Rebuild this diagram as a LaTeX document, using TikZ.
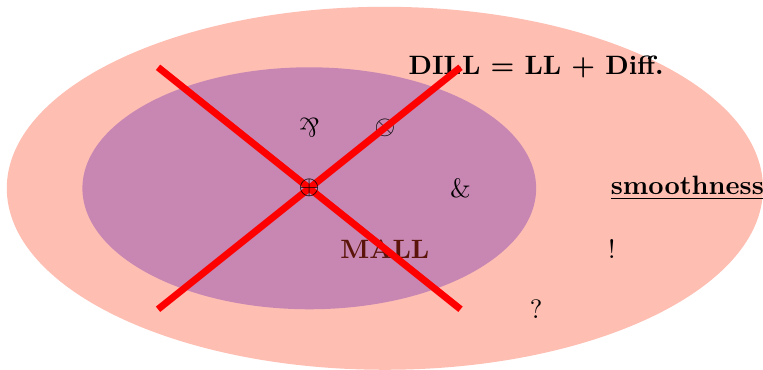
\documentclass[tikz,border=0pt]{standalone}
\usepackage{amsmath,amssymb}
\usepackage{tikz}
\usetikzlibrary{positioning}
\definecolor{dlsalmon}{RGB}{254,190,178}
\definecolor{dlmauve}{RGB}{200,135,178}
\definecolor{dlbrown}{RGB}{90,20,10}
\newcommand{\parrsym}{\rotatebox[origin=c]{180}{\&}}
\begin{document}
\begin{tikzpicture}[every node/.style={align=center},
    zone/.style={fill=#1,draw=none},
    cross/.style={red,line width=2.6pt}]
        \useasboundingbox (-5.09,-2.39) rectangle (5.0,2.49);
        \fill[zone=dlsalmon] (0,0) ellipse (5cm and 2.4cm);
        \fill[zone=dlmauve] (-1,0) ellipse (3cm and 1.6cm);
        \node (dill) at (2,1.6) {\textbf{DILL = LL + Diff.}};
        \node (parr) at (-1,0.8) {$\parrsym$};
        \node (tensor) at (0,0.8) {$\otimes$};
        \node (with) at (1,0) {$\&$};
        \node[text=dlbrown] (mall) at (0,-0.8) {\textbf{MALL}};
        \node (smooth) at (4,0) {\underline{\textbf{smoothness}}};
        \node (bang) at (3,-0.8) {$!$};
        \node (quest) at (2,-1.6) {$?$};
        \coordinate (nw) at (-3,1.6);
        \coordinate (ne) at (1,1.6);
        \coordinate (sw) at (-3,-1.6);
        \coordinate (se) at (1,-1.6);
        \draw[cross] (nw)--(se);
        \draw[cross] (sw)--(ne);
        \node (plus) at (-1,0) {$\oplus$};
      \end{tikzpicture}
\end{document}
